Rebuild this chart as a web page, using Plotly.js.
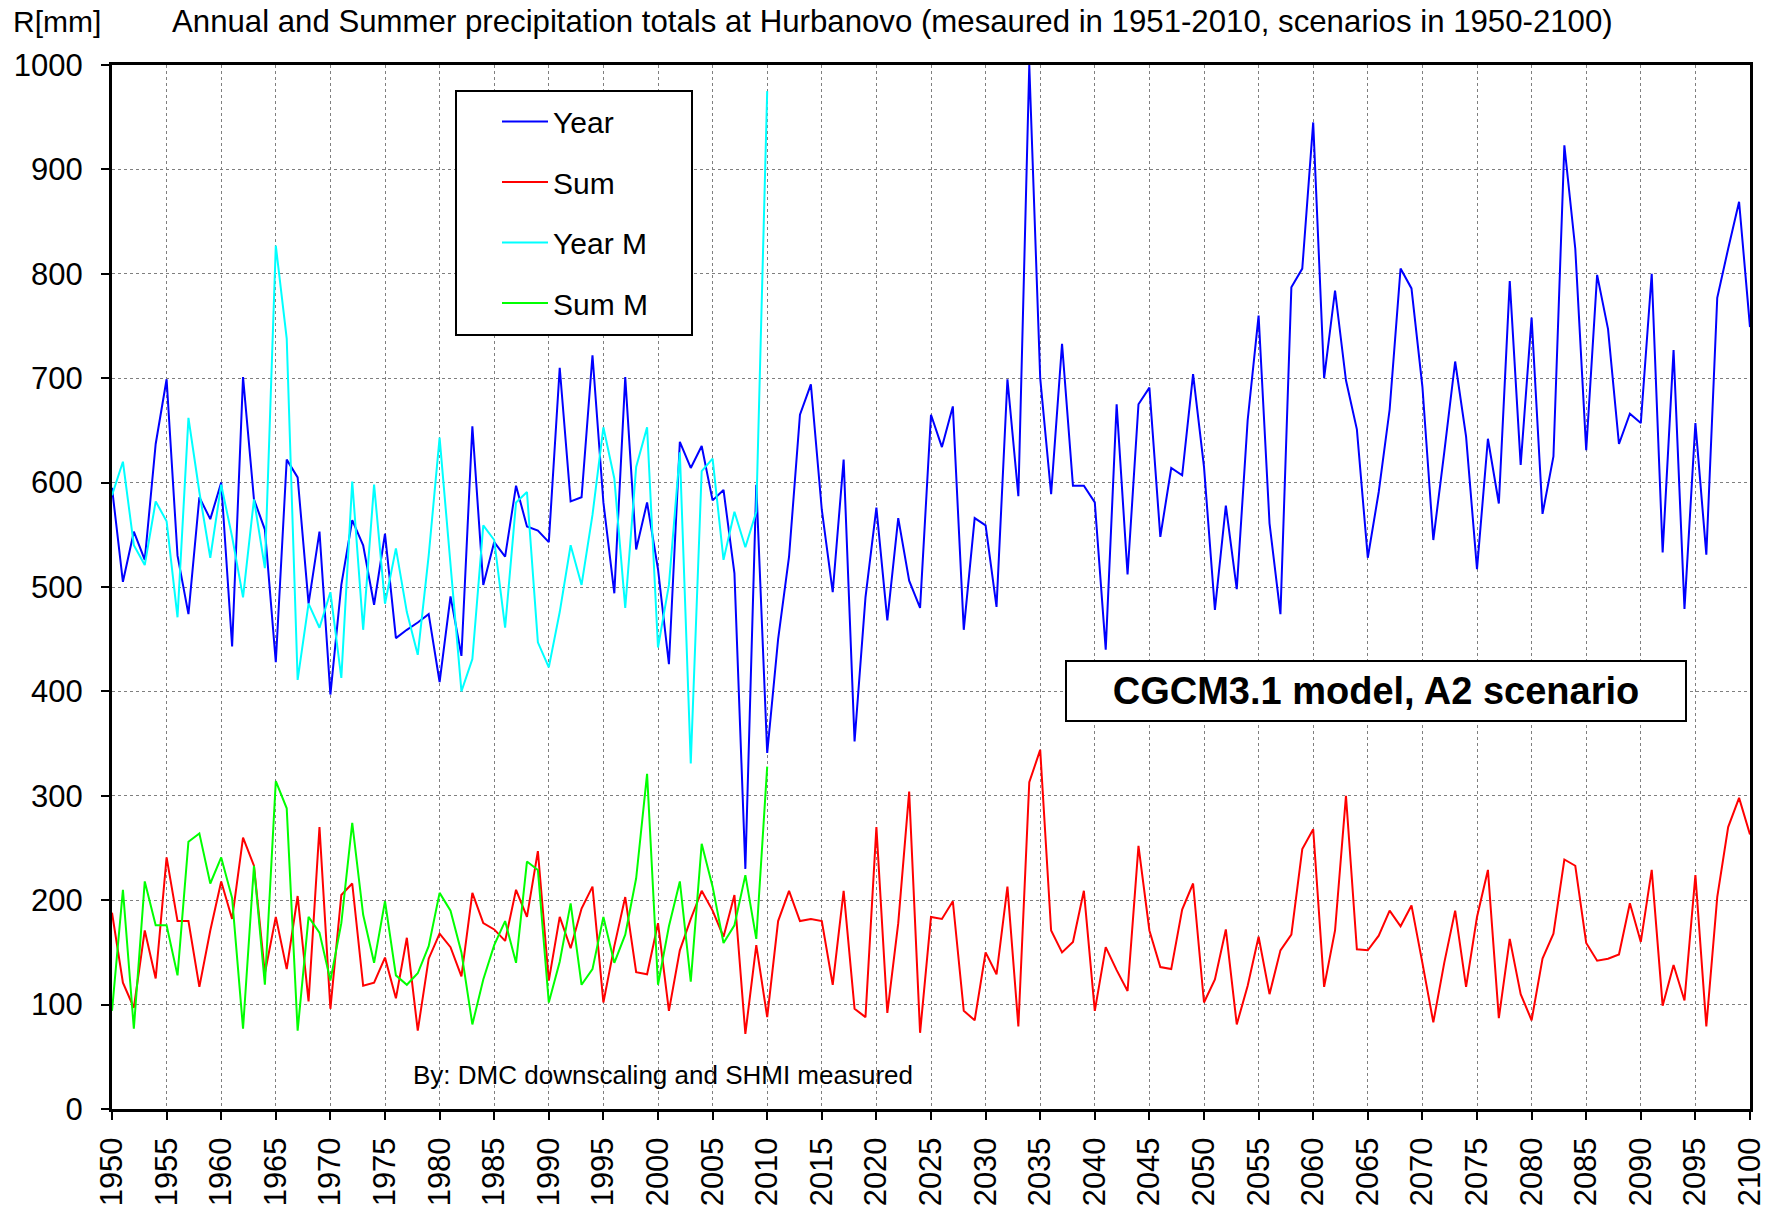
<!DOCTYPE html>
<html><head><meta charset="utf-8">
<script src="https://cdn.plot.ly/plotly-3.0.1.min.js"></script>
<style>html,body{margin:0;padding:0;background:#fff}#chart{width:1776px;height:1208px}</style>
</head><body><div id="chart"></div>
<script>
const firstYear = 1950;
// Scenario series 1950-2100
const yearScenario = [
595,505,553,526,637,699,530,474,586,565,600,443,701,584,555,428,
622,605,484,553,397,502,564,540,483,551,451,459,466,474,409,
491,434,654,502,543,529,597,558,554,543,710,582,586,722,581,
494,701,536,581,517,426,639,614,635,583,593,513,230,598,341,
450,529,665,694,574,495,622,352,490,576,468,566,506,480,665,
634,673,459,566,559,481,699,587,1000,700,589,733,597,597,581,
440,675,512,675,691,548,614,607,704,615,478,578,498,660,760,
561,474,787,805,945,700,784,698,651,528,591,670,805,786,692,
545,629,716,644,517,642,580,793,617,758,570,625,923,824,631,
799,747,637,666,657,800,533,727,479,657,531,777,824,869,749];
const sumScenario = [
188,121,97,171,125,241,180,180,117,171,218,182,260,233,130,184,
134,204,103,270,96,205,216,118,121,145,106,164,75,144,168,
155,127,207,178,172,161,210,184,247,123,184,154,192,213,102,
156,203,131,129,178,94,152,182,209,190,165,205,72,157,88,
180,209,180,182,180,119,209,96,88,270,92,178,304,73,184,
182,199,94,85,150,129,213,79,313,344,171,150,160,209,94,
155,133,113,252,171,136,134,191,216,102,124,172,81,118,165,
110,152,167,249,268,117,171,300,153,152,166,190,175,195,140,
83,140,190,117,184,229,87,163,110,85,144,168,239,233,159,
142,144,148,197,160,229,99,138,104,224,79,203,270,298,263];
// Measured series 1950-2010
const yearMeasured = [
588,620,540,521,582,563,471,662,591,528,598,548,490,584,518,827,
738,411,484,461,495,413,601,459,598,484,537,476,435,530,643,
518,400,431,559,545,461,581,591,447,423,476,540,502,569,653,
604,480,615,653,442,502,629,331,611,623,526,572,538,572,975];
const sumMeasured = [
94,210,77,218,176,176,128,256,264,216,241,202,77,233,119,314,
288,75,184,169,123,178,274,186,140,199,128,119,130,156,207,
190,150,81,124,157,180,140,237,229,102,141,197,119,134,184,
140,167,221,321,119,175,218,122,254,213,159,176,224,163,328];

const seriesNames = ['Year','Sum','Year M','Sum M'];
const seriesColors = ['#0000FF','#FF0000','#00FFFF','#00FF00'];
const seriesData = [yearScenario, sumScenario, yearMeasured, sumMeasured];

const FONT = 'Liberation Sans, Arial, sans-serif';

const traces = seriesData.map((vals, k) => ({
  type: 'scatter', mode: 'lines',
  x: vals.map((_, i) => firstYear + i),
  y: vals,
  name: seriesNames[k],
  legendgroup: 'g' + k,
  line: {color: seriesColors[k], width: 2},
  cliponaxis: true
}));

const W = 1776, H = 1208, L = 112, R = 26, T = 65, B = 99;
const pw = W - L - R, ph = H - T - B;
const px = x => (x - L) / pw;
const py = y => (H - B - y) / ph;

const layout = {
  width: W, height: H,
  margin: {l: L, r: R, t: T, b: B, pad: 0},
  paper_bgcolor: '#fff', plot_bgcolor: '#fff',
  font: {family: FONT, color: '#000', size: 30},
  title: {text: 'Annual and Summer precipitation totals at Hurbanovo (mesaured in 1951-2010, scenarios in 1950-2100)',
    xref: 'container', yref: 'container', x: 172 / W, xanchor: 'left', y: 1 - 21 / H, yanchor: 'middle',
    font: {family: FONT, size: 31.2, color: '#000'}},
  xaxis: {range: [1950, 2100], tick0: 1950, dtick: 5, tickangle: -90,
    showgrid: true, gridcolor: '#7f7f7f', griddash: 'dot', gridwidth: 1,
    showline: true, linecolor: '#000', linewidth: 3, mirror: true,
    ticks: 'outside', ticklen: 8, tickwidth: 2, tickcolor: '#000',
    ticklabelstandoff: 5,
    tickfont: {family: FONT, size: 31, color: '#000'}, zeroline: false, fixedrange: true},
  yaxis: {range: [0, 1000], tick0: 0, dtick: 100,
    showgrid: true, gridcolor: '#7f7f7f', griddash: 'dot', gridwidth: 1,
    showline: true, linecolor: '#000', linewidth: 3, mirror: true,
    ticks: 'outside', ticklen: 8, tickwidth: 2, tickcolor: '#000',
    ticklabelstandoff: 12,
    tickfont: {family: FONT, size: 31, color: '#000'}, zeroline: false, fixedrange: true},
  showlegend: true,
  legend: {x: px(497), y: py(95.5), xanchor: 'left', yanchor: 'top',
    bgcolor: 'rgba(0,0,0,0)', borderwidth: 0, tracegroupgap: 18.5, traceorder: 'grouped',
    itemwidth: 46,
    font: {family: FONT, size: 30, color: '#000'}},
  shapes: [
    {type: 'rect', xref: 'paper', yref: 'paper', x0: px(456), x1: px(692), y0: py(335), y1: py(91),
     fillcolor: '#fff', line: {color: '#000', width: 2}, layer: 'above'}
  ],
  annotations: [
    {text: 'R[mm]', xref: 'paper', yref: 'paper', x: px(11), y: py(21), xanchor: 'left', yanchor: 'middle',
     showarrow: false, font: {family: FONT, size: 30, color: '#000'}},
    {text: 'By: DMC downscaling and SHMI measured', xref: 'paper', yref: 'paper', x: px(411), y: py(1075),
     xanchor: 'left', yanchor: 'middle', showarrow: false, font: {family: FONT, size: 26, color: '#000'}},
    {text: '<b>CGCM3.1 model, A2 scenario</b>', xref: 'paper', yref: 'paper', x: px(1376), y: py(691),
     xanchor: 'center', yanchor: 'middle', showarrow: false, width: 618, height: 58,
     bgcolor: '#fff', bordercolor: '#000', borderwidth: 2, borderpad: 0,
     font: {family: FONT, size: 38, color: '#000'}}
  ]
};

Plotly.newPlot('chart', traces, layout, {displayModeBar: false, staticPlot: true});
</script>
</body></html>
